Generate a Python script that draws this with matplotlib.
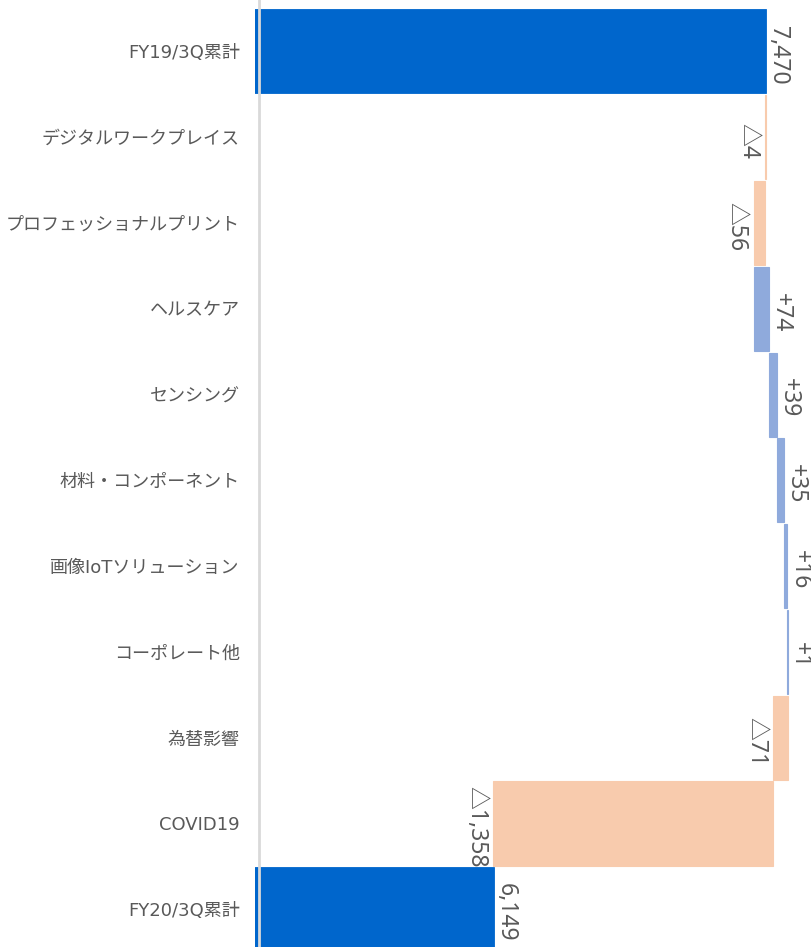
import numpy as np
import matplotlib.pyplot as plt

categories = ['FY19/3Q累計', 'デジタルワークプレイス', 'プロフェッショナルプリント', 'ヘルスケア',
              'センシング', '材料・コンポーネント', '画像IoTソリューション', 'コーポレート他',
              '為替影響', 'COVID19', 'FY20/3Q累計']
start_total = 7470
changes = [-4, -56, 74, 39, 35, 16, 1, -71, -1358]
end_total = 6149
value_labels = ['7,470', '△4', '△56', '+74', '+39', '+35', '+16', '+1', '△71', '△1,358', '6,149']

c_total = '#0066CC'
c_up = '#8FAADC'
c_down = '#F8CBAD'
c_text = '#595959'

fig = plt.figure(figsize=(8.12, 9.47), dpi=100)
ax = fig.add_axes([255 / 812, 0, 557 / 812, 1])

xmin, xmax = 4990, 7693
rows = np.arange(len(categories))
h = 0.98

# totals
ax.barh(rows[0], start_total, height=h, color=c_total, edgecolor=c_total, linewidth=0.6, zorder=2)
ax.barh(rows[-1], end_total, height=h, color=c_total, edgecolor=c_total, linewidth=0.6, zorder=2)

# steps
cum = start_total
anchors = [start_total]
for i, d in enumerate(changes):
    left = cum if d > 0 else cum + d
    col = c_up if d > 0 else c_down
    ax.barh(rows[i + 1], abs(d), left=left, height=h, color=col, edgecolor=col, linewidth=0.8, zorder=2)
    cum += d
    anchors.append(cum)
anchors.append(end_total)

px = (xmax - xmin) / 557.0  # data units per pixel
for i, lab in enumerate(value_labels):
    is_neg = lab.startswith('△')
    if is_neg:
        x = anchors[i] - 5 * px
        ha = 'right'
    else:
        x = anchors[i] + 0 * px
        ha = 'left'
    ax.text(x, rows[i] + 0.04, lab, rotation=270, ha=ha, va='center', fontsize=16.5,
            color=c_text, family=['Noto Sans', 'Noto Sans CJK JP'], zorder=3)

ax.axvline(xmin + 3.5 * px, color='#d9d9d9', lw=2, zorder=3)

ax.set_xlim(xmin, xmax)
ax.set_ylim(10.44, -0.6)
ax.set_xticks([])
ax.set_yticks(rows)
ax.set_yticklabels(categories, fontsize=13, color=c_text, family=['DejaVu Sans', 'Noto Sans CJK JP'])
ax.tick_params(axis='y', length=0, pad=11)
for s in ax.spines.values():
    s.set_visible(False)

fig.savefig('out.png', dpi=100)
